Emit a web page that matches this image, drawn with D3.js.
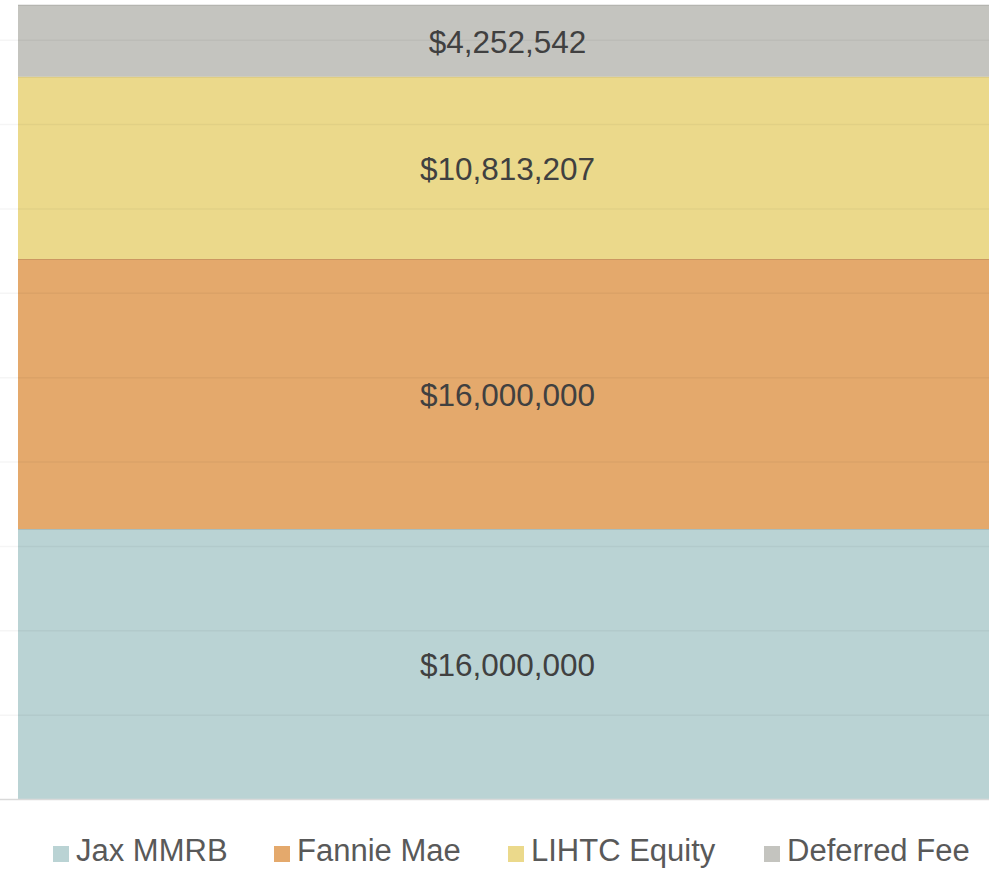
<html>
<head>
    <meta charset="utf-8">
    <title>Sources</title>
    <style>
        body { margin: 0; background: #fff; overflow: hidden; }
        text { font-family: "Liberation Sans", Arial, sans-serif; }
    </style>
</head>
<body>
    <script src="https://cdn.jsdelivr.net/npm/d3@7"></script>
    <script>
        var width = 989, height = 869;

        // data
        var categories = ["Jax MMRB", "Fannie Mae", "LIHTC Equity", "Deferred Fee"];
        var values = [16000000, 16000000, 10813207, 4252542];
        var colors = ["#bad3d4", "#e4a96c", "#ebd98b", "#c4c4bf"];
        var tickValues = [0, 5000000, 10000000, 15000000, 20000000, 25000000, 30000000, 35000000, 40000000, 45000000];

        var svg = d3.select("body").append("svg")
            .attr("width", width)
            .attr("height", height);

        // y scale: 0..50M, top part of the plot is cut off the picture
        var y = d3.scaleLinear()
            .domain([0, 50000000])
            .range([799, 799 - 843.75]);
        var x = d3.scaleBand()
            .domain(["sources"])
            .range([18, 997])
            .padding(0);

        // stack the single bar
        var row = { key: "sources" };
        categories.forEach(function (c, i) { row[c] = values[i]; });
        var stacked = d3.stack().keys(categories)([row]);

        var fmt = d3.format("$,");

        var barG = svg.append("g");
        var gridG = svg.append("g");
        var labelG = svg.append("g");

        barG.selectAll("rect")
            .data(stacked)
            .enter()
            .append("rect")
            .attr("x", x("sources"))
            .attr("width", x.bandwidth())
            .attr("y", function (d) { return y(d[0][1]); })
            .attr("height", function (d) { return y(d[0][0]) - y(d[0][1]); })
            .attr("fill", function (d, i) { return colors[i]; });

        // thin darker edge on top of each segment
        barG.selectAll("line")
            .data(stacked)
            .enter()
            .append("line")
            .attr("x1", x("sources"))
            .attr("x2", x("sources") + x.bandwidth())
            .attr("y1", function (d) { return y(d[0][1]) + 0.5; })
            .attr("y2", function (d) { return y(d[0][1]) + 0.5; })
            .attr("stroke", "rgba(0,0,0,0.1)")
            .attr("stroke-width", 1);

        // gridlines (drawn over the bar, faint)
        var grid = d3.axisLeft(y)
            .tickValues(tickValues)
            .tickSize(-width)
            .tickFormat("");
        gridG.call(grid);
        gridG.select(".domain").remove();
        gridG.selectAll(".tick line")
            .attr("stroke", function (d) { return d === 0 ? "#d9d9d9" : "rgba(0,0,0,0.04)"; })
            .attr("stroke-width", function (d) { return d === 0 ? 1.5 : 1.5; });

        // value labels
        labelG.selectAll("text")
            .data(stacked)
            .enter()
            .append("text")
            .attr("x", x("sources") + x.bandwidth() / 2)
            .attr("y", function (d) { return (y(d[0][0]) + y(d[0][1])) / 2 + 1; })
            .attr("text-anchor", "middle")
            .attr("dominant-baseline", "central")
            .attr("font-size", 31.5)
            .attr("fill", "#404040")
            .text(function (d, i) { return fmt(values[i]); });

        // legend
        var legendX = [53, 274, 508, 764];
        var legend = svg.append("g").selectAll("g")
            .data(categories)
            .enter()
            .append("g")
            .attr("transform", function (d, i) { return "translate(" + legendX[i] + ",853)"; });
        legend.append("rect")
            .attr("x", 0)
            .attr("y", -7)
            .attr("width", 16)
            .attr("height", 16)
            .attr("fill", function (d, i) { return colors[i]; });
        legend.append("text")
            .attr("x", 23)
            .attr("y", 8)
            .attr("font-size", 31)
            .attr("fill", "#595959")
            .text(function (d) { return d; });
    </script>
</body>
</html>
